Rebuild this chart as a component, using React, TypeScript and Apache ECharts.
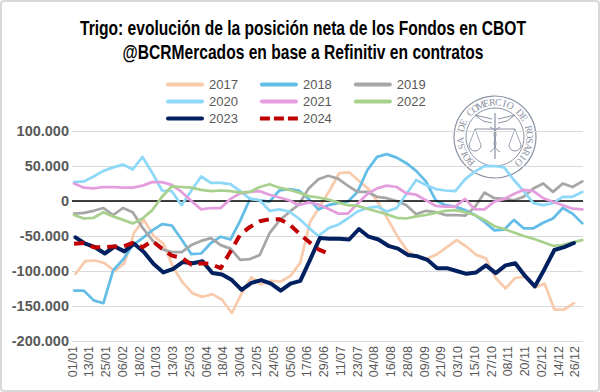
import React, { useEffect, useRef } from "react";
import * as echarts from "echarts";

// Daily categories of the (leap) year 2024, labelled dd/mm
const categories: string[] = (() => {
  const out: string[] = [];
  for (let i = 0; i < 366; i++) {
    const d = new Date(2024, 0, 1 + i);
    out.push(String(d.getDate()).padStart(2, "0") + "/" + String(d.getMonth() + 1).padStart(2, "0"));
  }
  return out;
})();

// Weekly net position of funds, thousands of contracts
const s2017 = [-104, -86, -85, -89, -100, -89, -45, -27, -50, -61, -95, -117, -132, -137, -133, -141, -160, -132, -109, -119, -114, -115, -107, -88, -30, -8, 15, 40, 41, 29, 17, -3, -27, -52, -72, -80, -82, -76, -66, -56, -65, -77, -82, -110, -125, -110, -108, -124, -118, -155, -155, -146];
const s2018 = [-128, -128, -142, -146, -99, -84, -63, -53, -42, -33, -35, -55, -76, -75, -60, -51, -55, -28, 3, 1, -1, 15, 17, 15, 3, -12, -6, -3, -1, 13, 44, 63, 67, 62, 54, 43, 28, 1, -6, -8, -13, -20, -30, -42, -41, -27, -39, -39, -31, -25, -10, -18, -32];
const s2019 = [-18, -17, -14, -10, -20, -10, -16, -38, -56, -69, -73, -73, -63, -57, -53, -63, -68, -84, -83, -77, -46, -28, -16, -5, 18, 31, 36, 32, 22, 13, 13, 6, 4, 0, -6, -19, -14, -16, -20, -20, -21, -9, 12, 4, 3, 1, 6, 18, 25, 13, 25, 20, 28];
const s2020 = [27, 28, 35, 43, 48, 52, 45, 63, 40, 15, 14, -6, 15, 35, 26, 26, 24, 14, 3, 1, -14, -12, -15, -25, -38, -50, -39, -34, -25, -15, -10, -8, -15, -10, 10, 30, 23, 17, 15, 14, 31, 42, 50, 50, 48, 30, 14, -3, -6, -3, 6, 6, 13];
const s2021 = [25, 19, 18, 20, 20, 19, 19, 22, 27, 27, 23, 13, 0, -12, -10, -10, 3, 11, 13, 14, 9, 5, 1, -6, -2, -5, -11, -18, -18, -4, 10, 18, 22, 20, 11, 9, 1, -7, -8, -8, 3, -12, -12, -1, 3, 10, 16, 14, 4, -1, -6, -11, -12];
const s2022 = [-20, -25, -24, -16, -22, -27, -32, -25, -13, 6, 21, 20, 19, 16, 14, 15, 14, 12, 13, 20, 24, 19, 16, 12, 7, 5, 2, -2, -6, -7, -11, -15, -19, -24, -25, -22, -20, -17, -14, -13, -16, -20, -27, -36, -40, -45, -50, -54, -59, -64, -63, -59, -56];
const s2023 = [-52, -61, -66, -75, -65, -72, -61, -73, -90, -102, -97, -87, -89, -86, -103, -105, -113, -127, -117, -113, -118, -128, -118, -114, -84, -53, -54, -54, -55, -40, -51, -55, -64, -68, -77, -79, -84, -96, -96, -100, -104, -102, -92, -103, -92, -89, -107, -122, -97, -70, -66, -60];
const s2024 = [-61, -60, -66, -66, -65, -65, -60, -66, -57, -68, -78, -81, -91, -89, -90, -96, -72, -48, -37, -29, -26, -26, -33, -46, -58, -69, -75];

// first report day (index in the year) for each series
const startDay: Record<string, number> = { "2017": 2, "2018": 1, "2019": 1, "2020": 1, "2021": 1, "2022": 1, "2023": 2, "2024": 1 };

const yTicks = { min: -200000, max: 100000, interval: 50000 };

const titleLines = [
  "Trigo: evolución de la posición neta de los Fondos en CBOT",
  "@BCRMercados en base a Refinitiv en contratos",
];

const seriesDefs = [
  { name: "2017", values: s2017, color: "#F8CBAD", width: 2.75, dashed: false },
  { name: "2018", values: s2018, color: "#63BDE7", width: 2.75, dashed: false },
  { name: "2019", values: s2019, color: "#A6A6A6", width: 2.75, dashed: false },
  { name: "2020", values: s2020, color: "#8ED8F8", width: 2.75, dashed: false },
  { name: "2021", values: s2021, color: "#E59EDD", width: 2.75, dashed: false },
  { name: "2022", values: s2022, color: "#A9D18E", width: 2.75, dashed: false },
  { name: "2023", values: s2023, color: "#002060", width: 4, dashed: false },
  { name: "2024", values: s2024, color: "#C00000", width: 4, dashed: true },
];

const SOLID_ICON = "path://M2,0 L36,0 A2,2 0 0 1 36,4 L2,4 A2,2 0 0 1 2,0 Z";
const DASH_ICON = "path://M0,0 L10,0 L10,4 L0,4 Z M14,0 L24,0 L24,4 L14,4 Z M28,0 L38,0 L38,4 L28,4 Z";

function fmt(v: number): string {
  const s = Math.abs(v).toString().replace(/\B(?=(\d{3})+(?!\d))/g, ".");
  return (v < 0 ? "-" : "") + s;
}

function sealGraphics(): any[] {
  const cx = 495, cy = 137;
  const col = "#8B92A4";
  const els: any[] = [
    { type: "circle", shape: { cx, cy, r: 41 }, style: { fill: "none", stroke: col, lineWidth: 1.2 }, silent: true },
    { type: "circle", shape: { cx, cy, r: 29 }, style: { fill: "none", stroke: col, lineWidth: 1 }, silent: true },
  ];
  const text = "BOLSA DE COMERCIO DE ROSARIO";
  const a0 = -136, a1 = 137;
  const n = text.length;
  for (let i = 0; i < n; i++) {
    const ch = text[i];
    if (ch === " ") continue;
    const deg = a0 + ((a1 - a0) * i) / (n - 1);
    const rad = (deg * Math.PI) / 180;
    const r = 35;
    els.push({
      type: "text",
      x: cx + r * Math.sin(rad),
      y: cy - r * Math.cos(rad),
      rotation: -rad,
      silent: true,
      style: { text: ch, fill: col, font: "10px 'Liberation Serif', serif", align: "center", verticalAlign: "middle" },
    });
  }
  els.push(
    { type: "line", shape: { x1: cx, y1: cy - 24, x2: cx, y2: cy + 22 }, style: { stroke: col, lineWidth: 1.2 }, silent: true },
    { type: "polyline", shape: { points: [[cx - 3, cy - 18], [cx - 20, cy - 22], [cx - 12, cy - 16], [cx - 3, cy - 14]] }, style: { stroke: col, fill: "none", lineWidth: 1 }, silent: true },
    { type: "polyline", shape: { points: [[cx + 3, cy - 18], [cx + 20, cy - 22], [cx + 12, cy - 16], [cx + 3, cy - 14]] }, style: { stroke: col, fill: "none", lineWidth: 1 }, silent: true },
    { type: "line", shape: { x1: cx - 20, y1: cy - 8, x2: cx + 20, y2: cy - 8 }, style: { stroke: col, lineWidth: 1 }, silent: true },
    { type: "polyline", shape: { points: [[cx - 26, cy + 8], [cx - 20, cy - 8], [cx - 14, cy + 8]] }, style: { stroke: col, fill: "none", lineWidth: 0.8 }, silent: true },
    { type: "polyline", shape: { points: [[cx + 14, cy + 8], [cx + 20, cy - 8], [cx + 26, cy + 8]] }, style: { stroke: col, fill: "none", lineWidth: 0.8 }, silent: true },
    { type: "arc", shape: { cx: cx - 20, cy: cy + 8, r: 6, startAngle: 0, endAngle: Math.PI }, style: { stroke: col, fill: "none", lineWidth: 1 }, silent: true },
    { type: "arc", shape: { cx: cx + 20, cy: cy + 8, r: 6, startAngle: 0, endAngle: Math.PI }, style: { stroke: col, fill: "none", lineWidth: 1 }, silent: true },
    { type: "bezierCurve", shape: { x1: cx - 5, y1: cy - 10, x2: cx + 5, y2: cy + 15, cpx1: cx + 10, cpy1: cy - 2, cpx2: cx - 10, cpy2: cy + 5 }, style: { stroke: col, fill: "none", lineWidth: 1 }, silent: true },
    { type: "bezierCurve", shape: { x1: cx + 5, y1: cy - 10, x2: cx - 5, y2: cy + 15, cpx1: cx - 10, cpy1: cy - 2, cpx2: cx + 10, cpy2: cy + 5 }, style: { stroke: col, fill: "none", lineWidth: 1 }, silent: true }
  );
  return els;
}

export default function App() {
  const ref = useRef<HTMLDivElement>(null);
  useEffect(() => {
    if (!ref.current) return;
    const chart = echarts.init(ref.current, undefined, { renderer: "svg" });
    const legendCommon = {
      left: 166,
      padding: 0,
      itemWidth: 38,
      itemHeight: 4.5,
      itemGap: 22,
      orient: "horizontal",
      textStyle: { color: "#595959", fontSize: 13, fontFamily: "'Liberation Sans', Arial, sans-serif" },
    };
    const legendItem = (name: string) => {
      const d = seriesDefs.find((s) => s.name === name)!;
      return { name, icon: d.dashed ? DASH_ICON : SOLID_ICON, itemStyle: { color: d.color } };
    };
    const series: any[] = seriesDefs.map((d, idx) => ({
      name: d.name,
      type: "line",
      symbol: "none",
      smooth: false,
      z: 2 + idx,
      lineStyle: { color: d.color, width: d.width, type: d.dashed ? [10, 7] : "solid", join: "round", cap: d.dashed ? "butt" : "round" },
      itemStyle: { color: d.color },
      data: d.values.map((v, i) => [startDay[d.name] + 7 * i, v * 1000]),
    }));
    series.push({
      name: "zero",
      type: "line",
      data: [],
      z: 1,
      markLine: {
        silent: true,
        symbol: "none",
        label: { show: false },
        lineStyle: { color: "#000000", width: 1.5, type: "solid" },
        data: [{ yAxis: 0 }],
      },
    });
    const titleFont = "bold 20px 'Liberation Sans', Arial, sans-serif";
    chart.setOption({
      animation: false,
      backgroundColor: "#ffffff",
      legend: [
        { ...legendCommon, top: 78, data: ["2017", "2018", "2019"].map(legendItem) },
        { ...legendCommon, top: 95, data: ["2020", "2021", "2022"].map(legendItem) },
        { ...legendCommon, top: 112, data: ["2023", "2024"].map(legendItem) },
      ],
      grid: { left: 72, right: 17, top: 131, bottom: 51, containLabel: false },
      xAxis: {
        type: "category",
        data: categories,
        boundaryGap: true,
        axisLine: { show: false, onZero: false },
        axisTick: { show: false },
        splitLine: { show: false },
        axisLabel: {
          interval: 11,
          rotate: 90,
          color: "#595959",
          fontSize: 12.5,
          fontFamily: "'Liberation Sans', Arial, sans-serif",
          margin: 5,
        },
      },
      yAxis: {
        type: "value",
        min: yTicks.min,
        max: yTicks.max,
        interval: yTicks.interval,
        axisLine: { show: false },
        axisTick: { show: false },
        splitLine: { lineStyle: { color: "#D9D9D9", width: 1 } },
        axisLabel: {
          formatter: (v: number) => fmt(v),
          color: "#595959",
          fontWeight: "bold",
          fontSize: 14.5,
          fontFamily: "'Liberation Sans', Arial, sans-serif",
          margin: 3,
        },
      },
      graphic: [
        { type: "rect", shape: { x: 1, y: 1, width: 598, height: 390, r: 3 }, style: { fill: "none", stroke: "#D9D9D9", lineWidth: 2 }, silent: true, z: 0 },
        ...titleLines.map((t, i) => ({
          type: "text",
          x: 303,
          y: 28 + i * 24.5,
          scaleX: 0.78,
          silent: true,
          style: { text: t, font: titleFont, fill: "#000000", align: "center", verticalAlign: "middle" },
        })),
        ...sealGraphics(),
      ],
      series,
    });
    return () => chart.dispose();
  }, []);
  return <div ref={ref} style={{ position: "absolute", left: 0, top: 0, width: 600, height: 392 }} />;
}
